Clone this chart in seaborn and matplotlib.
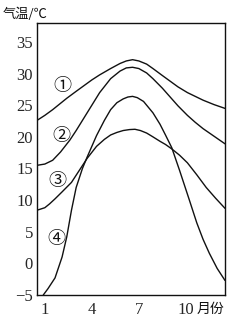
import matplotlib
matplotlib.use("Agg")
import matplotlib.pyplot as plt
import seaborn as sns
import pandas as pd
from matplotlib.ticker import FixedLocator

# Month positions (x) and temperatures (°C)
c1_month = [0.5, 1.0, 1.5, 2.0, 2.4, 3.0, 3.5, 4.0, 4.5, 5.2, 5.8, 6.2, 6.6, 7.0, 7.5, 7.9, 8.5, 9.0, 9.5, 10.1, 10.6, 11.1, 11.8, 12.5]
c1_temp  = [22.6, 23.4, 24.3, 25.3, 26.1, 27.2, 28.1, 29.0, 29.8, 30.8, 31.6, 32.0, 32.2, 32.0, 31.5, 30.8, 29.7, 28.8, 27.9, 27.0, 26.4, 25.8, 25.1, 24.5]

c2_month = [0.5, 1.0, 1.5, 2.0, 2.6, 3.0, 3.4, 4.0, 4.5, 5.2, 5.8, 6.2, 6.6, 7.0, 7.5, 7.9, 8.5, 9.0, 9.5, 10.1, 10.6, 11.1, 11.8, 12.5]
c2_temp  = [15.5, 15.7, 16.3, 17.6, 19.5, 21.0, 22.6, 25.0, 27.0, 29.2, 30.4, 30.9, 31.0, 30.8, 30.1, 29.2, 27.7, 26.3, 24.9, 23.4, 22.3, 21.3, 20.1, 18.9]

c3_month = [0.5, 1.0, 1.3, 1.65, 2.1, 2.7, 3.2, 3.7, 4.3, 4.8, 5.2, 5.6, 6.0, 6.4, 6.75, 7.1, 7.5, 7.9, 8.35, 8.7, 9.1, 9.6, 10.1, 10.7, 11.3, 11.9, 12.5]
c3_temp  = [8.4, 8.8, 9.4, 10.2, 11.3, 12.8, 14.7, 16.6, 18.5, 19.6, 20.3, 20.7, 21.0, 21.15, 21.2, 21.0, 20.6, 20.0, 19.3, 18.8, 18.1, 17.1, 15.9, 14.0, 12.0, 10.3, 8.7]

c4_month = [0.9, 1.2, 1.65, 2.1, 2.4, 2.7, 3.0, 3.4, 3.7, 4.3, 4.8, 5.2, 5.6, 6.0, 6.3, 6.6, 6.9, 7.3, 7.9, 8.35, 8.7, 9.1, 9.6, 10.2, 10.7, 11.1, 11.5, 12.0, 12.5]
c4_temp  = [-5.0, -4.0, -2.3, 1.0, 4.2, 8.4, 12.0, 15.0, 16.8, 20.2, 22.6, 24.3, 25.4, 26.0, 26.3, 26.4, 26.2, 25.6, 23.8, 22.0, 20.3, 18.3, 14.7, 10.2, 6.4, 3.8, 1.6, -0.8, -2.7]

curve_names = ["①", "②", "③", "④"]
label_month = [2.1, 2.03, 1.78, 1.71]
label_temp  = [28.0, 20.1, 13.0, 3.8]

y_ticks = [-5, 0, 5, 10, 15, 20, 25, 30, 35]
x_ticks = [1, 4, 7, 10]
x_ticklabels = ["1", "4", "7", "10"]
x_minor = [1.5, 2.5, 3.5, 4.5, 5.5, 6.5, 7.5, 8.5, 9.5, 10.5, 11.5]

frames = []
for name, m, t in zip(curve_names, [c1_month, c2_month, c3_month, c4_month],
                      [c1_temp, c2_temp, c3_temp, c4_temp]):
    frames.append(pd.DataFrame({"month": m, "temp": t, "curve": name}))
df = pd.concat(frames, ignore_index=True)

sns.set_style("white")
plt.rcParams["font.family"] = ["Liberation Serif", "Noto Sans CJK SC", "DejaVu Sans"]

fig = plt.figure(figsize=(2.44, 3.2), dpi=100)
ax = fig.add_axes([37/244, 1 - 295/320, (225 - 37)/244, (295 - 23)/320])

sns.lineplot(data=df, x="month", y="temp", units="curve", estimator=None,
             color="#111111", linewidth=1.0, ax=ax, legend=False)

ax.set_xlim(0.5, 12.5)
ax.set_ylim(-5, 38)
ax.set_xlabel("")
ax.set_ylabel("")

ax.set_yticks(y_ticks)
ax.set_yticklabels([str(v) if v >= 0 else "\u2212" + str(-v) for v in y_ticks], fontsize=12)
ax.tick_params(axis="y", direction="in", length=4, width=0.8, pad=3, color="#111111")

ax.set_xticks(x_ticks)
ax.set_xticklabels(x_ticklabels, fontsize=12)
ax.xaxis.set_minor_locator(FixedLocator(x_minor))
ax.tick_params(axis="x", which="major", length=0, pad=5)
ax.tick_params(axis="x", which="minor", direction="in", length=3, width=0.8, color="#111111")

for s in ax.spines.values():
    s.set_visible(True)
    s.set_color("#111111")
    s.set_linewidth(1.0)

for name, lm, lt in zip(curve_names, label_month, label_temp):
    ax.text(lm, lt, name, ha="center", va="center", fontsize=13,
            family=["Noto Sans CJK SC", "DejaVu Sans"], color="#111111")

fig.text(3/244, 1 - 14/320, "气温/℃", ha="left", va="center", fontsize=9.5,
         family=["Noto Sans CJK SC", "DejaVu Sans"], color="#111111")
fig.text(197/244, 1 - 309/320, "月份", ha="left", va="center", fontsize=10,
         family=["Noto Sans CJK SC", "DejaVu Sans"], color="#111111")

fig.savefig("out.png", dpi=100)
